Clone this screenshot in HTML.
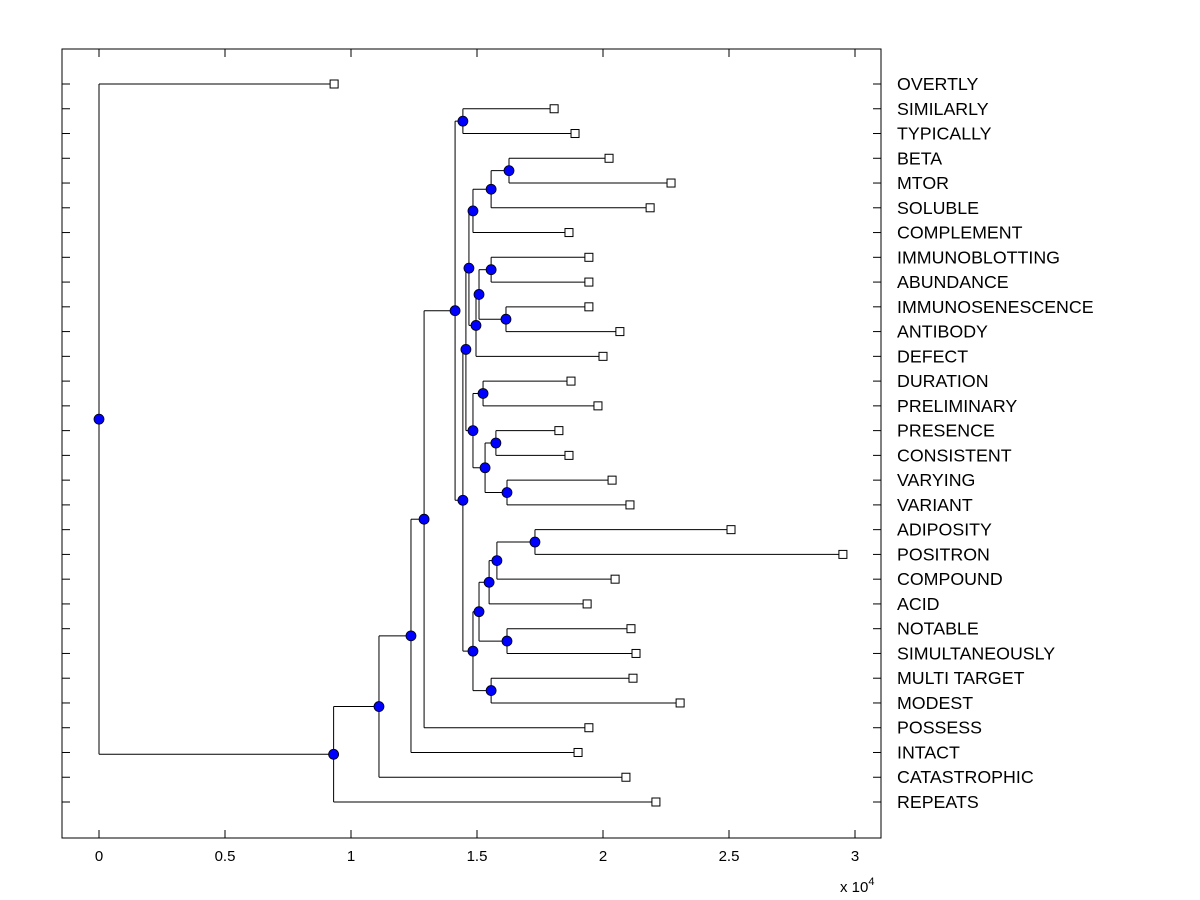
<!DOCTYPE html>
<html><head><meta charset="utf-8"><style>
html,body{margin:0;padding:0;background:#fff;}
svg{display:block;font-family:"Liberation Sans",Arial,sans-serif;}
</style></head><body>
<svg id="chart" width="1200" height="900" viewBox="0 0 1200 900" xmlns="http://www.w3.org/2000/svg"></svg>
<script>
const leafNames = ["OVERTLY","SIMILARLY","TYPICALLY","BETA","MTOR","SOLUBLE","COMPLEMENT","IMMUNOBLOTTING","ABUNDANCE","IMMUNOSENESCENCE","ANTIBODY","DEFECT","DURATION","PRELIMINARY","PRESENCE","CONSISTENT","VARYING","VARIANT","ADIPOSITY","POSITRON","COMPOUND","ACID","NOTABLE","SIMULTANEOUSLY","MULTI TARGET","MODEST","POSSESS","INTACT","CATASTROPHIC","REPEATS"];
const leafValues = [0.933,1.806,1.889,2.024,2.270,2.187,1.865,1.944,1.944,1.944,2.067,2.0,1.873,1.980,1.825,1.865,2.036,2.107,2.508,2.952,2.048,1.937,2.111,2.131,2.119,2.306,1.944,1.901,2.091,2.210];
const mergeLeft  = [1,3,31,32,7,9,34,36,33,12,14,16,40,39,38,18,45,46,22,47,24,49,44,30,53,54,55,56,0];
const mergeRight = [2,4,5,6,8,10,35,11,37,13,15,17,41,42,43,19,20,21,23,48,25,50,51,52,26,27,28,29,57];
const mergeHeights = [1.444,1.627,1.556,1.484,1.556,1.615,1.508,1.496,1.468,1.524,1.575,1.619,1.532,1.484,1.456,1.730,1.579,1.548,1.619,1.508,1.556,1.484,1.444,1.413,1.290,1.238,1.111,0.931,0];
const xTicks = [0,0.5,1,1.5,2,2.5,3];
const xTickLabels = ["0","0.5","1","1.5","2","2.5","3"];

const svg = document.getElementById('chart');
const NS = "http://www.w3.org/2000/svg";
const L=62,R=881,T=49,B=838;
const xScale = v => 99 + v*252;
const yScale = i => 84 + i*(802-84)/(leafNames.length-1);
function mk(tag, attrs, parent){const e=document.createElementNS(NS,tag);for(const k in attrs)e.setAttribute(k,attrs[k]);(parent||svg).appendChild(e);return e;}

const frame = mk('rect',{x:L,y:T,width:R-L,height:B-T,fill:'none',stroke:'#000','stroke-width':1});



const tg = mk('g',{});


xTicks.forEach((v,i)=>{
  const x=xScale(v);
  mk('line',{x1:x,y1:B,x2:x,y2:B-8,stroke:'#000'},tg);
  mk('line',{x1:x,y1:T,x2:x,y2:T+8,stroke:'#000'},tg);
  const t=mk('text',{x:x,y:B+23,'text-anchor':'middle','font-size':15},tg);
  t.textContent=xTickLabels[i];
  
  
});
const xl=mk('text',{x:840,y:892,'font-size':15});
xl.innerHTML='x 10<tspan dy="-7" font-size="11">4</tspan>';



const yg = mk('g',{});


leafNames.forEach((n,i)=>{
  const y=yScale(i);
  mk('line',{x1:L,y1:y,x2:L+8,y2:y,stroke:'#000'},yg);
  mk('line',{x1:R-8,y1:y,x2:R,y2:y,stroke:'#000'},yg);
  const t=mk('text',{x:897,y:y+6,'font-size':17.8},yg);
  t.textContent=n;
  
  
});

const nodeX=[], nodeY=[];
leafNames.forEach((n,i)=>{nodeX[i]=leafValues[i];nodeY[i]=yScale(i);});
mergeHeights.forEach((h,k)=>{
  const id=leafNames.length+k;
  nodeX[id]=h;
  nodeY[id]=(nodeY[mergeLeft[k]]+nodeY[mergeRight[k]])/2;
});
const lg=mk('g',{stroke:'#000','stroke-width':1,fill:'none'});


mergeHeights.forEach((h,k)=>{
  const x=xScale(h), a=mergeLeft[k], b=mergeRight[k];
  mk('line',{x1:x,y1:nodeY[a],x2:x,y2:nodeY[b]},lg);
  mk('line',{x1:x,y1:nodeY[a],x2:xScale(nodeX[a]),y2:nodeY[a]},lg);
  mk('line',{x1:x,y1:nodeY[b],x2:xScale(nodeX[b]),y2:nodeY[b]},lg);
});
leafNames.forEach((n,i)=>{
  const r=mk('rect',{x:xScale(leafValues[i])-4,y:yScale(i)-4,width:8,height:8,fill:'#fff',stroke:'#000'});
  
  
});
mergeHeights.forEach((h,k)=>{
  const id=leafNames.length+k;
  const c=mk('circle',{cx:xScale(h),cy:nodeY[id],r:5,fill:'#0000ff',stroke:'#000','stroke-width':0.8});
  
  
});
</script>
</body></html>
